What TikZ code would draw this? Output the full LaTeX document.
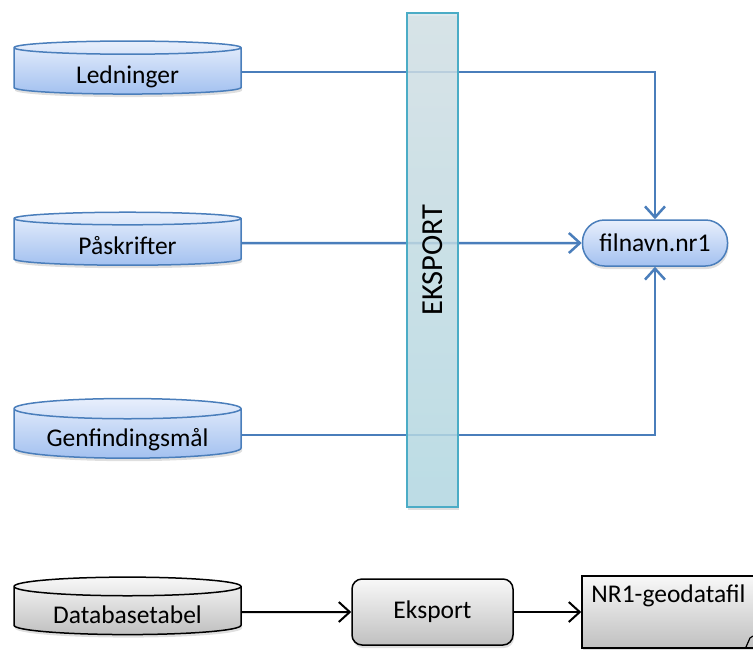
\documentclass[tikz,border=0pt]{standalone}
\usepackage{fontspec}
\setmainfont{Carlito}
\usepackage{tikz}
\usetikzlibrary{positioning}
\usetikzlibrary{shapes.geometric}
\usetikzlibrary{arrows.meta}
\usetikzlibrary{shadows}

\definecolor{lineblue}{RGB}{74,126,187}
\definecolor{bluetop}{RGB}{232,239,252}
\definecolor{bluebot}{RGB}{163,193,240}
\definecolor{bartop}{RGB}{214,228,234}
\definecolor{barbot}{RGB}{180,220,232}
\definecolor{barline}{RGB}{75,172,198}
\definecolor{graytop}{RGB}{248,248,248}
\definecolor{graybot}{RGB}{192,192,192}

\begin{document}
\begin{tikzpicture}[x=1pt,y=-1pt,
  font=\fontsize{25.5}{30}\selectfont,
  softshadow/.style={drop shadow={opacity=0.25,shadow xshift=1pt,shadow yshift=-3pt}},
  dbblue/.style={cylinder, shape border rotate=90, aspect=0.12, draw=lineblue, line width=1.5pt,
    top color=bluetop, bottom color=bluebot, minimum width=227pt, minimum height=53pt,
    text height=27pt, text depth=4pt, inner ysep=0pt, softshadow},
  dbgray/.style={dbblue, draw=black, top color=graytop, bottom color=graybot},
  pill/.style={rectangle, rounded corners=22pt, draw=lineblue, line width=1.5pt,
    top color=bluetop, bottom color=bluebot, minimum width=145pt, minimum height=46pt, softshadow},
  graybox/.style={rectangle, rounded corners=10pt, draw=black, line width=1.5pt,
    top color=graytop, bottom color=graybot, minimum width=161pt, minimum height=66pt, softshadow},
  notebox/.style={rectangle, draw=black, line width=1.5pt,
    top color=graytop, bottom color=graybot, minimum width=176pt, minimum height=72pt, softshadow},
  bar/.style={rectangle, draw=barline, line width=2pt, top color=bartop, bottom color=barbot,
    fill opacity=0.8, minimum width=51pt, minimum height=494pt, softshadow},
  conn/.style={draw=lineblue, line width=2.5pt, -{Straight Barb[length=11pt,width=20pt]}},
  darr/.style={draw=black, line width=2pt, -{Straight Barb[length=11pt,width=20pt]}}]

\useasboundingbox (0,0) rectangle (753,649);
\clip (0,0) rectangle (753,649);

% tables
\node[dbblue] (led) at (127.5,72) {Ledninger};
\node[dbblue] (pask) at (127.5,243) {Påskrifter};
\node[dbblue] (genf) at (127.5,435) {Genfindingsmål};

\node[pill] (fil) at (655,243) {filnavn.nr1};

\draw[conn] (led) -| (fil);
\draw[conn] (pask) -- (fil);
\draw[conn] (genf) -| (fil);

% export bar
\node[bar] (bar) at (432.5,260) {};
\node[rotate=90, font=\fontsize{30.5}{36}\selectfont] (barlabel) at (bar) {EKSPORT};

% legend
\node[dbgray] (db) at (127.5,612) {Databasetabel};
\node[graybox] (eks) at (432.5,612) {Eksport};
\node[notebox] (nr1) at (670,612) {};
\node[anchor=base west, inner sep=0pt] (nr1text) at ([xshift=10pt,yshift=-27pt]nr1.north west) {NR1-geodatafil};
\draw[line width=1.2pt] (746,647) -- (750,638) -- (753,636);

\draw[darr] (db) -- (eks);
\draw[darr] (eks) -- (nr1);

\end{tikzpicture}
\end{document}
